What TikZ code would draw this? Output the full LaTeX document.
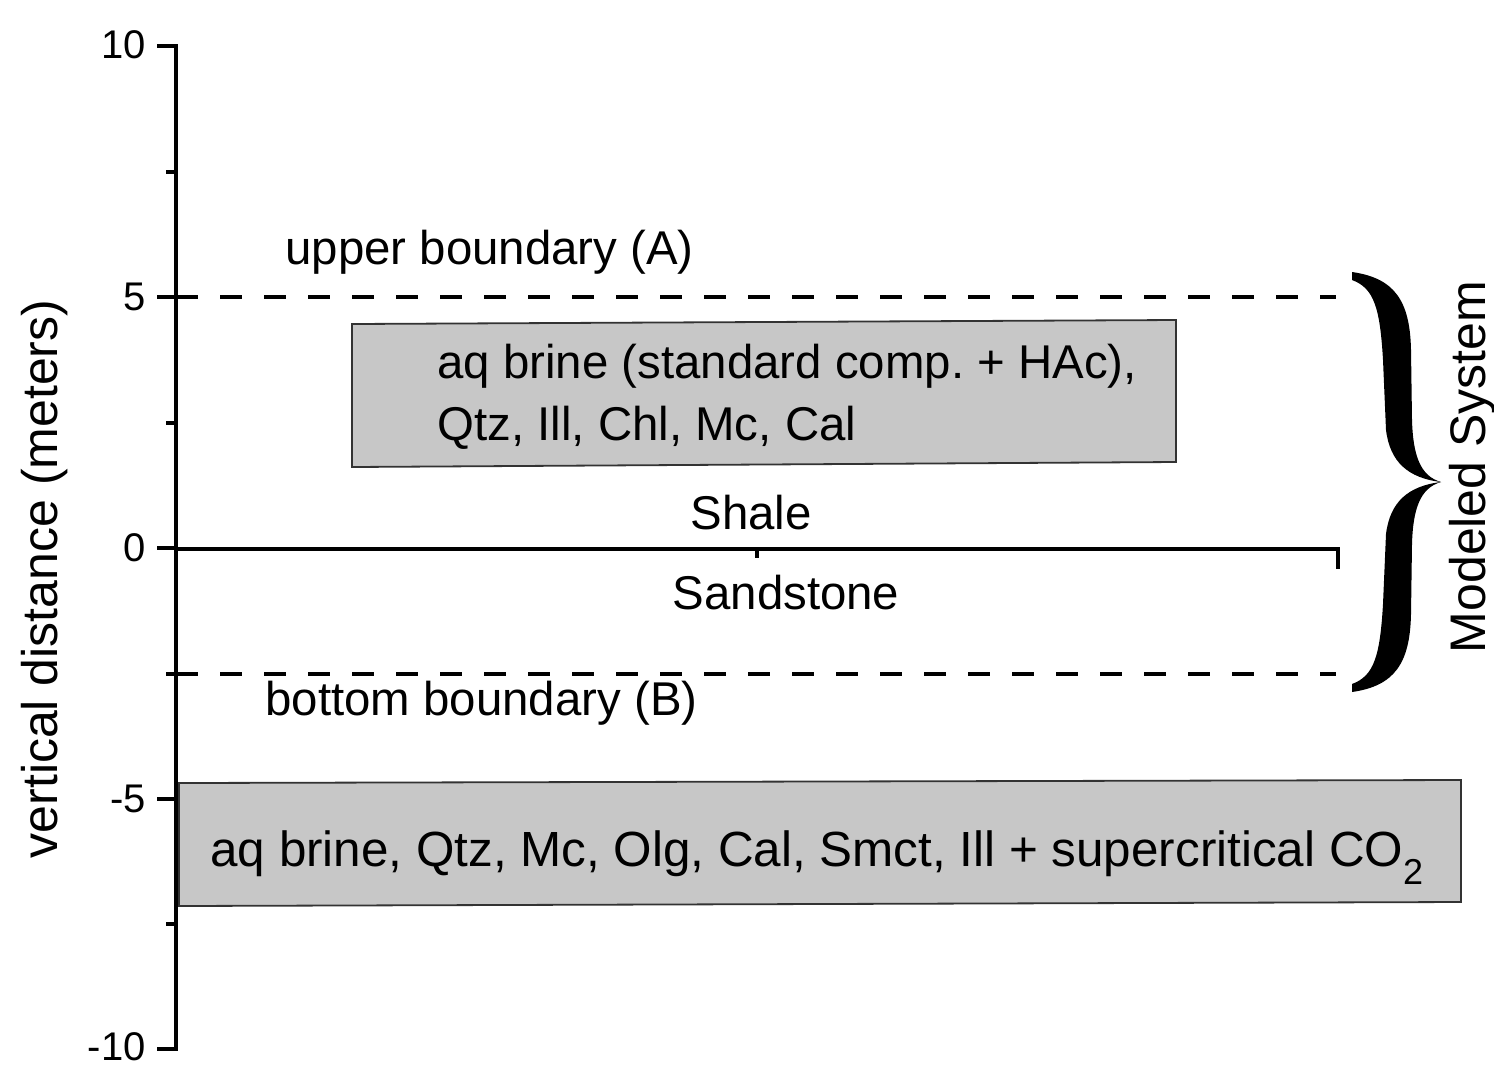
\documentclass[tikz,border=0pt]{standalone}
\usepackage{fontspec}
\setmainfont{Liberation Sans}
\definecolor{boxgray}{RGB}{199,199,199}
\frenchspacing
\begin{document}
\begin{tikzpicture}[x=0.5pt,y=-0.5pt,
  axisline/.style={line width=1.7pt},
  boundline/.style={line width=2pt,dash pattern=on 11pt off 11pt},
  layerbox/.style={fill=boxgray,draw=black!80,line width=0.9pt},
  txt/.style={inner sep=0pt,font=\fontsize{23.7}{28}\selectfont},
  bigtxt/.style={inner sep=0pt,font=\fontsize{25}{30}\selectfont},
  ticklbl/.style={inner sep=0pt,anchor=east,font=\fontsize{20}{24}\selectfont}]
\useasboundingbox (0,0) rectangle (1494,1067);

% vertical axis with major and minor ticks
\coordinate (ytop) at (176,46);
\coordinate (ybot) at (176,1049);
\draw[axisline] (157,46) -- (ytop) -- (ybot) -- (157,1049);
\foreach \y in {297,548,799} \draw[axisline] (157,\y) -- (176,\y);
\foreach \y in {172,423,674,924} \draw[axisline] (166,\y) -- (176,\y);

\node[ticklbl] (t10) at (146,45) {10};
\node[ticklbl] (t5) at (146,297) {5};
\node[ticklbl] (t0) at (146,548) {0};
\node[ticklbl] (tm5) at (146,799) {-5};
\node[ticklbl] (tm10) at (146,1047) {-10};

\node[bigtxt,rotate=90] (ylab) at (45,579) {vertical distance (meters)};

% shale / sandstone interface
\coordinate (ifl) at (176,549);
\coordinate (ifr) at (1338,549);
\draw[axisline] (ifl) -- (ifr) -- (1338,569);
\draw[axisline] (757,549) -- (757,558);

% model boundaries
\draw[boundline] (176,297) -- (1336,297);
\draw[boundline] (176,674) -- (1336,674);

% mineral assemblage boxes
\filldraw[layerbox] (352,324) -- (1176,320) -- (1176,462) -- (352,467) -- cycle;
\filldraw[layerbox] (179,783) -- (1461,780) -- (1461,902) -- (179,906) -- cycle;

% labels
\node[txt,anchor=base west] (upb) at (285,264) {upper boundary (A)};
\node[txt,anchor=base west] (lob) at (265,715) {bottom boundary (B)};
\node[txt,anchor=base] (shale) at (751,529) {Shale};
\node[txt,anchor=base] (sand) at (786,609) {Sandstone};
\node[txt,anchor=base west] (sh1) at (437,378) {aq brine (standard comp. + HAc),};
\node[txt,anchor=base west] (sh2) at (437,440) {Qtz, Ill, Chl, Mc, Cal};
\node[bigtxt,anchor=base west,font=\fontsize{24.7}{30}\selectfont] (ss) at (210,866) {aq brine, Qtz, Mc, Olg, Cal, Smct, Ill + supercritical CO\raisebox{-9pt}{\fontsize{18}{18}\selectfont 2}};

% curly brace around the modeled system
\fill (1352,272) .. controls (1394,278) and (1410,300) .. (1411,350)
  -- (1412,420) .. controls (1413,455) and (1420,476) .. (1441,482)
  .. controls (1408,478) and (1390,462) .. (1386,430)
  -- (1383,360) .. controls (1380,308) and (1374,288) .. (1352,280) -- cycle;
\fill (1352,692) .. controls (1394,686) and (1410,664) .. (1411,614)
  -- (1412,544) .. controls (1413,509) and (1420,488) .. (1441,482)
  .. controls (1408,486) and (1390,502) .. (1386,534)
  -- (1383,604) .. controls (1380,656) and (1374,676) .. (1352,684) -- cycle;

\node[bigtxt,rotate=90] (msys) at (1473,467) {Modeled System};
\end{tikzpicture}
\end{document}
